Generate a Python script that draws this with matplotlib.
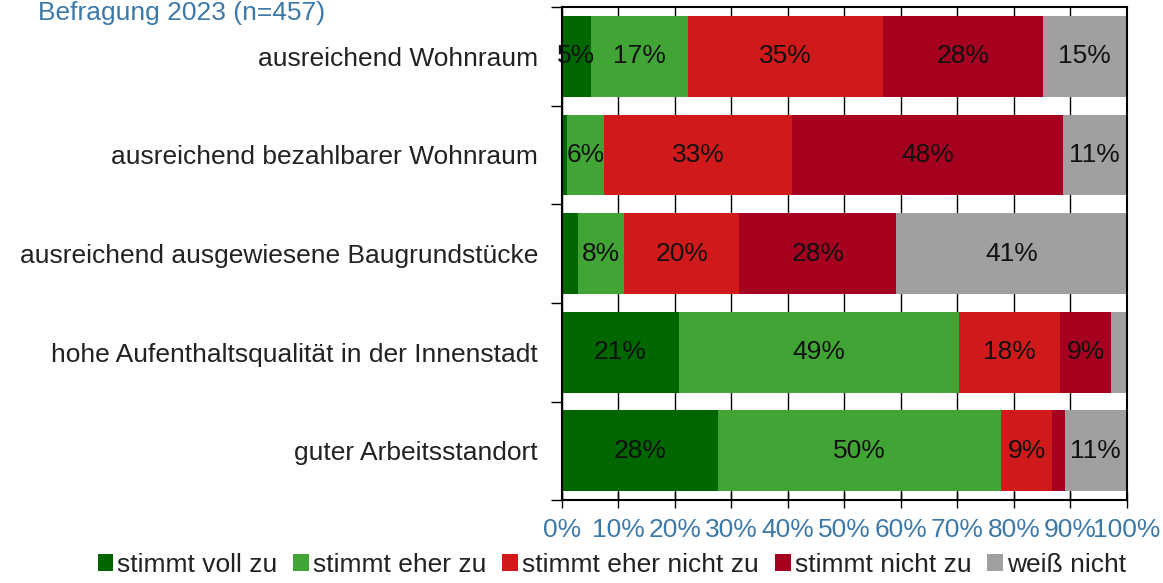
import matplotlib.pyplot as plt
import numpy as np
from matplotlib.ticker import FixedLocator

plt.rcParams['font.family'] = ['Liberation Sans', 'DejaVu Sans']

categories = [
    "ausreichend Wohnraum",
    "ausreichend bezahlbarer Wohnraum",
    "ausreichend ausgewiesene Baugrundstücke",
    "hohe Aufenthaltsqualität in der Innenstadt",
    "guter Arbeitsstandort",
]
series_names = ["stimmt voll zu", "stimmt eher zu", "stimmt eher nicht zu",
                "stimmt nicht zu", "weiß nicht"]
voll_zu = [5.1, 1.0, 2.9, 20.8, 27.6]
eher_zu = [17.2, 6.4, 8.2, 49.4, 50.1]
eher_nicht = [34.6, 33.4, 20.3, 18.0, 9.1]
nicht_zu = [28.2, 47.8, 27.8, 9.0, 2.2]
weiss_nicht = [14.9, 11.4, 40.8, 2.8, 11.0]
colors = ["#006600", "#41a535", "#d0191b", "#a5001f", "#a0a0a0"]
x_ticks = list(range(0, 101, 10))

title = "Befragung 2023 (n=457)"
blue = "#3d79a8"
fs = 19

fig = plt.figure(figsize=(11.63, 5.83), dpi=100)
ax = fig.add_axes([0.483, 0.142, 0.486, 0.846])

data = [voll_zu, eher_zu, eher_nicht, nicht_zu, weiss_nicht]
y = np.arange(len(categories))
left = np.zeros(len(categories))
for vals, name, col in zip(data, series_names, colors):
    vals = np.array(vals)
    ax.barh(y, vals, left=left.copy(), height=0.82, color=col, label=name, zorder=2)
    for yi, l, v in zip(y, left, vals):
        if v >= 4.5:
            ax.text(l + v / 2, yi, f"{v:.0f}%", ha="center", va="center",
                    fontsize=fs, color="#111111", zorder=3)
    left = left + vals

ax.set_xlim(0, 100)
ax.set_ylim(len(categories) - 0.5, -0.5)
ax.set_xticks(x_ticks)
ax.set_xticklabels([f"{t}%" for t in x_ticks], color=blue, fontsize=fs)
ax.grid(axis="x", color="black", linewidth=1, zorder=0)
ax.set_axisbelow(True)
ax.tick_params(axis="x", direction="inout", length=12, width=1, pad=7)

ax.set_yticks(y)
ax.set_yticklabels(categories, fontsize=fs, color="#222222")
ax.yaxis.set_minor_locator(FixedLocator(np.arange(-0.5, len(categories), 1)))
ax.tick_params(axis="y", which="major", length=0, pad=17)
ax.tick_params(axis="y", which="minor", length=8, width=1)

for s in ax.spines.values():
    s.set_color("black")
    s.set_linewidth(1.5)

fig.text(0.033, 1 - 20 / 583, title, color=blue, fontsize=fs, va="baseline")

fig.legend(loc="lower center", bbox_to_anchor=(0.526, -0.03), ncol=5, frameon=False,
           fontsize=fs, handlelength=0.6, handleheight=0.6, handletextpad=0.15,
           columnspacing=0.6, labelcolor="#222222")

fig.savefig("out.png", dpi=100)
